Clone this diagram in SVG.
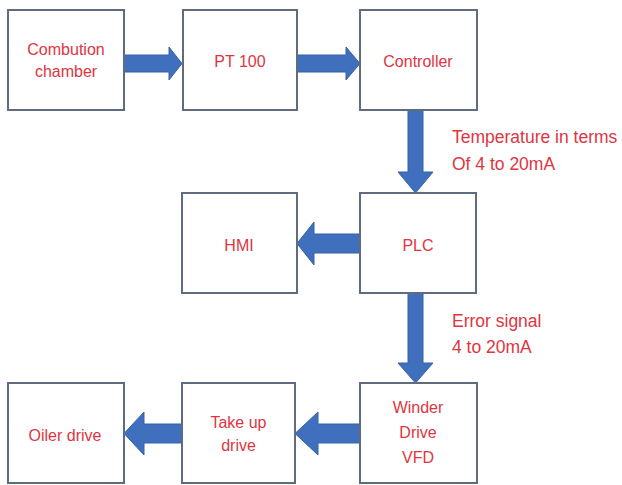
<svg xmlns="http://www.w3.org/2000/svg" width="622" height="485" viewBox="0 0 622 485">
<style>
.box{fill:#ffffff;stroke:#5f6b7e;stroke-width:2}
.t{font-family:"Liberation Sans",Arial,sans-serif;font-size:16px;fill:#e0353f;text-anchor:middle}
.lab{font-family:"Liberation Sans",Arial,sans-serif;font-size:17.5px;fill:#e0353f}
.arr{fill:#4070bd;stroke:#3563a8;stroke-width:1}
</style>
<rect width="622" height="485" fill="#ffffff"/>
<g id="connectors">
<polygon class="arr" points="124,55 169,55 169,47 182,63.5 169,80 169,72 124,72"/>
<polygon class="arr" points="297,55 346,55 346,47 360,63.5 346,80 346,72 297,72"/>
<polygon class="arr" points="408,110 423,110 423,172 433,172 415.5,193 398,172 408,172"/>
<polygon class="arr" points="360,234 314,234 314,222 297,243.5 314,265 314,253 360,253"/>
<polygon class="arr" points="408,293 423,293 423,363 433,363 415.5,383 398,363 408,363"/>
<polygon class="arr" points="360,424 318,424 318,412 295,433.5 318,455 318,443 360,443"/>
<polygon class="arr" points="182,424 144,424 144,412 124,433.5 144,455 144,443 182,443"/>
<text class="lab" x="452" y="143">Temperature in terms</text>
<text class="lab" x="452" y="170">Of 4 to 20mA</text>
<text class="lab" x="452" y="327">Error signal</text>
<text class="lab" x="452" y="353">4 to 20mA</text>
</g>
<g id="combustion">
<rect class="box" x="8" y="10" width="116" height="100"/>
<text class="t" x="66" y="55">Combution</text>
<text class="t" x="66" y="77">chamber</text>
</g>
<g id="pt100">
<rect class="box" x="183" y="10" width="114" height="100"/>
<text class="t" x="240" y="67">PT 100</text>
</g>
<g id="controller">
<rect class="box" x="360" y="10" width="117" height="100"/>
<text class="t" x="418" y="67">Controller</text>
</g>
<g id="hmi">
<rect class="box" x="182" y="193" width="115" height="100"/>
<text class="t" x="239" y="251">HMI</text>
</g>
<g id="plc">
<rect class="box" x="360" y="193" width="116" height="100"/>
<text class="t" x="418" y="251">PLC</text>
</g>
<g id="oiler">
<rect class="box" x="8" y="383" width="116" height="100"/>
<text class="t" x="65" y="441">Oiler drive</text>
</g>
<g id="takeup">
<rect class="box" x="182" y="383" width="113" height="100"/>
<text class="t" x="238.5" y="428">Take up</text>
<text class="t" x="238.5" y="451">drive</text>
</g>
<g id="winder">
<rect class="box" x="360" y="383" width="117" height="100"/>
<text class="t" x="418" y="413">Winder</text>
<text class="t" x="418" y="438">Drive</text>
<text class="t" x="418" y="463">VFD</text>
</g>
</svg>
